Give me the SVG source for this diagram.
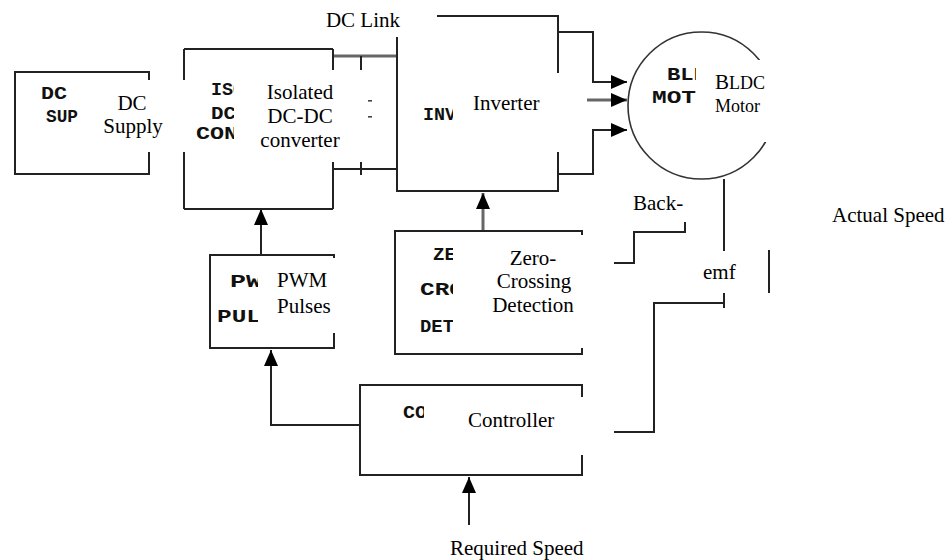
<svg xmlns="http://www.w3.org/2000/svg" width="952" height="560" viewBox="0 0 952 560">
<defs>
<style>
.box{fill:none;stroke:#222;stroke-width:2}
.thick{stroke-width:3}
.mask{fill:#fff;stroke:none}
.lbl{font-family:"Liberation Serif","Times New Roman",serif;font-size:21px;fill:#000}
.sm{font-family:"Liberation Serif","Times New Roman",serif;font-size:18px;fill:#000}
.tiny{font-family:"Liberation Mono","Courier New",monospace;font-weight:bold;font-size:19px;fill:#111}
.ln{fill:none;stroke:#222;stroke-width:2}
.gr{fill:none;stroke:#666;stroke-width:3}
</style>
<marker id="ah" viewBox="0 0 16 14" refX="16" refY="7" markerWidth="16" markerHeight="14" markerUnits="userSpaceOnUse" orient="auto">
<path d="M0,0 L16,7 L0,14 z" fill="#000"/>
</marker>
</defs>
<rect width="952" height="560" fill="#fff"/>

<g id="connectors">
<path class="gr" d="M333 56 H397"/>
<path class="ln" d="M333 169 H397"/>
<path class="ln" stroke-width="1.5" d="M361 56 V175"/>
<rect x="368" y="100" width="4" height="1.6" fill="#444"/>
<rect x="368" y="116" width="4" height="1.6" fill="#444"/>
<path class="ln" d="M558 32 H593 V82 H627" marker-end="url(#ah)"/>
<path class="gr" d="M587 100 H627" marker-end="url(#ah)"/>
<path class="ln" d="M558 174 H593 V130 H627" marker-end="url(#ah)"/>
<path class="ln" stroke-width="3" d="M261 255 V209" marker-end="url(#ah)"/>
<path class="gr" d="M483 231 V193" marker-end="url(#ah)"/>
<path class="ln" d="M360 425 H271 V350" marker-end="url(#ah)"/>
<path class="ln" d="M469 525 V477" marker-end="url(#ah)"/>
<path class="ln" stroke-width="1.5" d="M724 179 V220"/>
<path class="ln" stroke-width="2.5" stroke="#333" d="M724 220 V251"/>
<path class="ln" d="M724 293 V308 M724 303 H654 V432 H614"/>
<path class="ln" stroke-width="2.5" stroke="#333" d="M614 263 H634 V232 H685 V222"/>
<path class="ln" stroke-width="2.5" d="M769 250 V293"/>
</g>

<g id="dc-supply">
<rect class="box" x="15" y="72" width="134" height="102"/>
<text class="tiny" x="41" y="99" textLength="26" lengthAdjust="spacingAndGlyphs">DC</text>
<text class="tiny" x="46" y="122" textLength="32" lengthAdjust="spacingAndGlyphs">SUP</text>
</g>

<g id="converter">
<path class="box" stroke-width="2" d="M184 49 H333 M184 209 H333"/>
<path class="box" stroke-width="3" d="M184 49 V209 M333 49 V209"/>
<text class="tiny" x="211" y="95" textLength="33" lengthAdjust="spacingAndGlyphs">ISO</text>
<text class="tiny" x="211" y="119" font-size="16" textLength="25" lengthAdjust="spacingAndGlyphs">DC</text>
<text class="tiny" x="196" y="139" font-size="12" textLength="42" lengthAdjust="spacingAndGlyphs">CON</text>
</g>

<g id="inverter">
<rect class="box" stroke-width="1.6" x="397" y="16" width="161" height="175"/>
<text class="tiny" x="423" y="120" textLength="33" lengthAdjust="spacingAndGlyphs">INV</text>
</g>

<g id="motor">
<circle cx="701.5" cy="105.5" r="73.5" fill="none" stroke="#333" stroke-width="1.6"/>
<text class="tiny" x="667" y="80" textLength="40" lengthAdjust="spacingAndGlyphs">BLD</text>
<text class="tiny" x="652" y="103" textLength="44" lengthAdjust="spacingAndGlyphs">MOT</text>
</g>

<g id="pwm">
<rect class="box" x="210" y="255" width="124" height="93"/>
<text class="tiny" x="230" y="287" font-size="22" textLength="48" lengthAdjust="spacingAndGlyphs">PWM</text>
<text class="tiny" x="217" y="322" textLength="44" lengthAdjust="spacingAndGlyphs">PUL</text>
</g>

<g id="zcd">
<rect class="box" x="395" y="231" width="187" height="123"/>
<text class="tiny" x="433" y="260" textLength="23" lengthAdjust="spacingAndGlyphs">ZE</text>
<text class="tiny" x="420" y="295" textLength="44" lengthAdjust="spacingAndGlyphs">CRO</text>
<text class="tiny" x="420" y="332" textLength="34" lengthAdjust="spacingAndGlyphs">DET</text>
</g>

<g id="controller">
<rect class="box" x="360" y="385" width="222" height="90"/>
<text class="tiny" x="403" y="418" textLength="24" lengthAdjust="spacingAndGlyphs">CO</text>
</g>

<g id="masks">
<rect class="mask" x="81" y="80" width="106" height="72"/>
<rect class="mask" x="234" y="70" width="132" height="92"/>
<rect class="mask" x="318" y="0" width="119" height="37"/>
<rect class="mask" x="453" y="73" width="134" height="79"/>
<rect class="mask" x="696" y="60" width="90" height="82"/>
<rect class="mask" x="258" y="258" width="90" height="75"/>
<rect class="mask" x="453" y="235" width="161" height="113"/>
<rect class="mask" x="424" y="397" width="190" height="58"/>
</g>

<g id="labels">
<text class="lbl" x="132" y="110" text-anchor="middle">DC</text>
<text class="lbl" x="133" y="133" text-anchor="middle">Supply</text>
<text class="lbl" x="300" y="99" text-anchor="middle">Isolated</text>
<text class="lbl" x="300" y="123" text-anchor="middle">DC-DC</text>
<text class="lbl" x="300" y="147" text-anchor="middle">converter</text>
<text class="lbl" x="400" y="27" text-anchor="end">DC Link</text>
<text class="lbl" x="473" y="110">Inverter</text>
<text class="sm" x="715" y="89"><tspan font-size="21">B</tspan>LDC</text>
<text class="sm" x="715" y="112">Motor</text>
<text class="lbl" x="277" y="287">PWM</text>
<text class="lbl" x="277" y="313">Pulses</text>
<text class="lbl" x="533" y="265" text-anchor="middle">Zero-</text>
<text class="lbl" x="534" y="288" text-anchor="middle">Crossing</text>
<text class="lbl" x="533" y="312" text-anchor="middle">Detection</text>
<text class="lbl" x="633" y="210">Back-</text>
<text class="lbl" x="703" y="279">emf</text>
<text class="lbl" x="832" y="222">Actual Speed</text>
<text class="lbl" x="468" y="427">Controller</text>
<text class="lbl" x="450" y="555">Required Speed</text>
</g>
</svg>
